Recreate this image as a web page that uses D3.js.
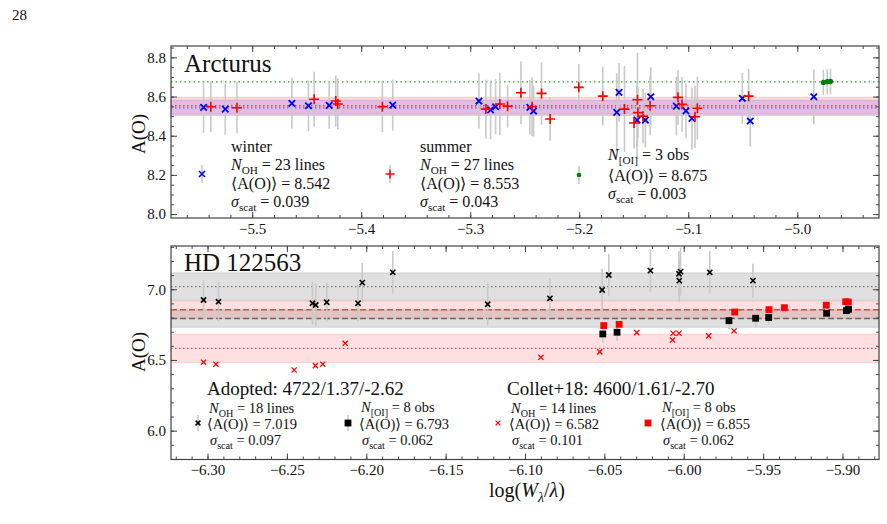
<!DOCTYPE html>
<html><head><meta charset="utf-8">
<script src="https://cdn.jsdelivr.net/npm/d3@7"></script>
<style>body{margin:0;background:#fff}svg{display:block}text{font-family:"Liberation Serif","DejaVu Serif",serif;fill:#111}</style>
</head><body><svg id="c" width="887" height="524"></svg>
<script>
// ---------- Arcturus (top panel) ----------
const arcWinterX = [-5.5446,-5.5247,-5.4636,-5.4484,-5.4294,-5.3711,-5.2920,-5.2813,-5.2767,-5.2453,-5.2419,-5.1635,-5.1656,-5.1470,-5.1393,-5.1344,-5.1109,-5.1021,-5.0966,-5.0504,-5.0431,-4.9848];
const arcWinterY = [8.545,8.536,8.565,8.553,8.555,8.556,8.577,8.532,8.548,8.545,8.526,8.621,8.519,8.480,8.480,8.599,8.551,8.527,8.488,8.591,8.475,8.599];
const arcWinterErr = [0.13,0.13,0.13,0.13,0.12,0.13,0.14,0.15,0.14,0.14,0.13,0.15,0.20,0.20,0.14,0.15,0.15,0.14,0.16,0.13,0.13,0.14];
const arcSummerX = [-5.538,-5.514,-5.4432,-5.4233,-5.4215,-5.3806,-5.2856,-5.2728,-5.2657,-5.2535,-5.2432,-5.2346,-5.2267,-5.2004,-5.1784,-5.1585,-5.1466,-5.1462,-5.1497,-5.1415,-5.1350,-5.1094,-5.1057,-5.0938,-5.0916,-5.0446];
const arcSummerY = [8.548,8.543,8.586,8.577,8.562,8.548,8.536,8.562,8.551,8.619,8.548,8.616,8.485,8.647,8.602,8.536,8.584,8.518,8.465,8.500,8.553,8.596,8.560,8.497,8.540,8.602];
const arcSummerErr = [0.13,0.13,0.14,0.13,0.13,0.13,0.15,0.16,0.11,0.16,0.15,0.16,0.11,0.12,0.15,0.22,0.24,0.13,0.13,0.14,0.15,0.14,0.14,0.16,0.16,0.14];
const arcOIX = [-4.9760,-4.9725,-4.9695];
const arcOIY = [8.672,8.676,8.677];
const arcOIErr = [0.065,0.065,0.065];
const arcMeans = [8.542, 8.553, 8.675];
const arcScatter = [0.039, 0.043, 0.003];
const arcCounts = [23, 27, 3];

// ---------- HD 122563 (bottom panel) ----------
const hdOHX = [-6.3025,-6.2931,-6.2339,-6.2318,-6.2249,-6.2052,-6.2025,-6.1833,-6.1235,-6.0843,-6.0514,-6.0472,-6.0210,-6.0030,-6.0020,-6.0028,-5.9836,-5.9564];
const hdOHY = [6.924,6.912,6.901,6.889,6.908,6.901,7.047,7.120,6.894,6.936,6.995,7.101,7.132,7.110,7.125,7.061,7.120,7.061];
const hdOHErr = [0.14,0.14,0.15,0.15,0.14,0.13,0.14,0.15,0.15,0.14,0.15,0.15,0.15,0.16,0.17,0.15,0.15,0.12];
const hdOIX = [-6.0510,-6.0420,-5.9715,-5.9547,-5.9465,-5.9100,-5.8975,-5.8962];
const hdOIY = [6.684,6.696,6.778,6.795,6.800,6.830,6.849,6.858];
const hdOIErr = [0.06,0.06,0.06,0.06,0.05,0.05,0.05,0.05];
const colOHX = [-6.3025,-6.2947,-6.2454,-6.2320,-6.2274,-6.2133,-6.0900,-6.0529,-6.0296,-6.0067,-6.0071,-6.0030,-5.9843,-5.9683];
const colOHY = [6.484,6.470,6.429,6.460,6.470,6.618,6.519,6.557,6.693,6.689,6.641,6.689,6.670,6.705];
const colOIX = [-6.0504,-6.0407,-5.9679,-5.9463,-5.9366,-5.9102,-5.8980,-5.8963];
const colOIY = [6.743,6.752,6.839,6.856,6.870,6.887,6.912,6.910];
const hdMeans = [7.019, 6.793, 6.582, 6.855];
const hdScatter = [0.097, 0.062, 0.101, 0.062];
const hdCounts = [18, 8, 14, 8];

// ticks
const topXTicks = [-5.5,-5.4,-5.3,-5.2,-5.1,-5.0];
const topYTicks = [8.0,8.2,8.4,8.6,8.8];
const botXTicks = [-6.30,-6.25,-6.20,-6.15,-6.10,-6.05,-6.00,-5.95,-5.90];
const botYTicks = [6.0,6.5,7.0];

const svg = d3.select("#c");
svg.append("rect").attr("width",887).attr("height",524).attr("fill","#fff");
svg.append("text").attr("x",12).attr("y",20).attr("font-size",15).text("28");

const L=171,R=879,T1=46,B1=218,T2=246,B2=459.5;
const xTop = d3.scaleLinear().domain([-5.5745,-4.925]).range([L,R]);
const yTop = d3.scaleLinear().domain([7.980,8.858]).range([B1,T1]);
const xBot = d3.scaleLinear().domain([-6.323,-5.877]).range([L,R]);
const yBot = d3.scaleLinear().domain([5.796,7.306]).range([B2,T2]);

const ERRC = "#c9c9c9";
function band(g,y,m,s,fill){
  g.append("rect").attr("x",L).attr("width",R-L).attr("y",y(m+s)).attr("height",y(m-s)-y(m+s))
   .attr("fill",fill).attr("stroke",fill).attr("stroke-width",1);
}
function hline(g,y,v,color,dash,w){
  g.append("line").attr("x1",L).attr("x2",R).attr("y1",y(v)).attr("y2",y(v))
   .attr("stroke",color).attr("stroke-width",w||1.2).attr("stroke-dasharray",dash);
}
function errbars(g,x,y,X,Y,E){
  g.selectAll(null).data(X).enter().append("line")
   .attr("x1",(d)=>x(d)).attr("x2",(d)=>x(d))
   .attr("y1",(d,i)=>y(Y[i]+E[i])).attr("y2",(d,i)=>y(Y[i]-E[i]))
   .attr("stroke",ERRC).attr("stroke-width",1.6);
}
const xPath = s=>`M${-s},${-s}L${s},${s}M${-s},${s}L${s},${-s}`;
const pPath = s=>`M${-s},0H${s}M0,${-s}V${s}`;
function markers(g,x,y,X,Y,type,color,size,sw){
  const sel = g.selectAll(null).data(X).enter();
  if(type==="x"||type==="+"){
    sel.append("path").attr("transform",(d,i)=>`translate(${x(d)},${y(Y[i])})`)
      .attr("d",type==="x"?xPath(size):pPath(size)).attr("stroke",color).attr("stroke-width",sw).attr("fill","none");
  } else if(type==="o"){
    sel.append("circle").attr("cx",d=>x(d)).attr("cy",(d,i)=>y(Y[i])).attr("r",size).attr("fill",color);
  } else {
    sel.append("rect").attr("x",d=>x(d)-size).attr("y",(d,i)=>y(Y[i])-size).attr("width",2*size).attr("height",2*size).attr("fill",color);
  }
}
function frame(g,x,y,T,B,xt,xminor,yt,yminor,xfmt,yfmt){
  const AX="#444";
  const mk=(axis,tr,vals,size,fmt)=>{
    const a=g.append("g").attr("transform",tr).call(axis.tickValues(vals).tickSize(size).tickSizeOuter(0).tickPadding(5).tickFormat(fmt));
    a.select(".domain").remove();
    a.selectAll("line").attr("stroke",AX).attr("stroke-width",1);
    a.selectAll("text").attr("font-family","Liberation Serif, serif").attr("font-size",15).attr("fill","#111");
    return a;
  };
  const none=()=>"";
  mk(d3.axisBottom(x),`translate(0,${B})`,xt,-6,xfmt);
  mk(d3.axisBottom(x),`translate(0,${B})`,xminor,-3,none);
  mk(d3.axisTop(x),`translate(0,${T})`,xt,-6,none);
  mk(d3.axisTop(x),`translate(0,${T})`,xminor,-3,none);
  mk(d3.axisLeft(y),`translate(${L},0)`,yt,-6,yfmt);
  mk(d3.axisLeft(y),`translate(${L},0)`,yminor,-3,none);
  mk(d3.axisRight(y),`translate(${R},0)`,yt,-6,none);
  mk(d3.axisRight(y),`translate(${R},0)`,yminor,-3,none);
  g.append("rect").attr("x",L).attr("y",T).attr("width",R-L).attr("height",B-T).attr("fill","none").attr("stroke",AX).attr("stroke-width",1.2);
}
const rng=(a,b,s)=>d3.range(Math.round(a/s),Math.round(b/s)+1).map(k=>+(k*s).toFixed(4));

// text helpers
function addText(g,x,y,parts,size){
  const t=g.append("text").attr("x",x).attr("y",y).attr("font-size",size);
  let shift=0;
  parts.forEach(p=>{
    const ts=t.append("tspan").text(p.t);
    if(p.i) ts.attr("font-style","italic");
    const target=p.sub?size*0.25:0;
    if(target!==shift){ts.attr("dy",target-shift);shift=target;}
    if(p.sub) ts.attr("font-size",size*0.7);
  });
  return t;
}
const Nline=(sub,rest)=>[{t:"N",i:1},{t:sub,sub:1},{t:rest}];
const Aline=v=>[{t:"\u27E8A(O)\u27E9 = "+v}];
const Sline=v=>[{t:"\u03C3",i:1},{t:"scat",sub:1},{t:" = "+v}];

// ===== TOP PANEL =====
const gt=svg.append("g");
band(gt,yTop,arcMeans[1],arcScatter[1],"rgba(255,0,0,0.14)");
band(gt,yTop,arcMeans[0],arcScatter[0],"rgba(60,0,255,0.14)");
hline(gt,yTop,arcMeans[2],"#2a9a2a","1.5,3",1.2);
hline(gt,yTop,arcMeans[1],"#e04040","1.5,2.5",1.3);
hline(gt,yTop,arcMeans[0],"#5060ff","1.5,2.5",1.3);
errbars(gt,xTop,yTop,arcWinterX,arcWinterY,arcWinterErr);
errbars(gt,xTop,yTop,arcSummerX,arcSummerY,arcSummerErr);
errbars(gt,xTop,yTop,arcOIX,arcOIY,arcOIErr);
markers(gt,xTop,yTop,arcWinterX,arcWinterY,"x","#0000ff",3.2,1.8);
markers(gt,xTop,yTop,arcSummerX,arcSummerY,"+","#ff0000",5,1.6);
markers(gt,xTop,yTop,arcOIX,arcOIY,"o","#008000",2.6);
frame(gt,xTop,yTop,T1,B1,topXTicks,rng(-5.56,-4.94,0.02),topYTicks,rng(8.0,8.85,0.05),d3.format(".1f"),d3.format(".1f"));
gt.append("text").attr("x",184).attr("y",72).attr("font-size",25).text("Arcturus");
gt.append("text").attr("transform","translate(145,134) rotate(-90)").attr("text-anchor","middle").attr("font-size",19).text("A(O)");

// top legend
function legMark(g,x,y,type,color,size,sw,e){
  g.append("line").attr("x1",x).attr("x2",x).attr("y1",y-e).attr("y2",y+e).attr("stroke",ERRC).attr("stroke-width",1.6);
  markers(g,d=>d,()=>y,[x],[0],type,color,size,sw);
}
legMark(gt,202,174,"x","#0000ff",3,1.6,9);
legMark(gt,390,174,"+","#ff0000",4.5,1.5,9);
legMark(gt,579,175,"o","#008000",2.3,1,9);
const LF=16;
addText(gt,231,152,[{t:"winter"}],LF);
addText(gt,231,170,Nline("OH"," = "+arcCounts[0]+" lines"),LF);
addText(gt,231,189,Aline(arcMeans[0].toFixed(3)),LF);
addText(gt,231,207,Sline(arcScatter[0].toFixed(3)),LF);
addText(gt,420,152,[{t:"summer"}],LF);
addText(gt,420,170,Nline("OH"," = "+arcCounts[1]+" lines"),LF);
addText(gt,420,189,Aline(arcMeans[1].toFixed(3)),LF);
addText(gt,420,207,Sline(arcScatter[1].toFixed(3)),LF);
addText(gt,608,160,Nline("[OI]"," = "+arcCounts[2]+" obs"),LF);
addText(gt,608,181,Aline(arcMeans[2].toFixed(3)),LF);
addText(gt,608,199,Sline(arcScatter[2].toFixed(3)),LF);

// ===== BOTTOM PANEL =====
const gb=svg.append("g");
band(gb,yBot,hdMeans[0],hdScatter[0],"rgba(0,0,0,0.12)");
band(gb,yBot,hdMeans[1],hdScatter[1],"rgba(0,0,0,0.12)");
band(gb,yBot,hdMeans[2],hdScatter[2],"rgba(255,0,0,0.12)");
band(gb,yBot,hdMeans[3],hdScatter[3],"rgba(255,0,0,0.12)");
hline(gb,yBot,hdMeans[0],"#777","1.5,2.5",1.2);
hline(gb,yBot,hdMeans[1],"#666","6,3",1.4);
hline(gb,yBot,hdMeans[3],"#e04848","6,3",1.4);
hline(gb,yBot,hdMeans[2],"#e04848","1.5,2.5",1.2);
errbars(gb,xBot,yBot,hdOHX,hdOHY,hdOHErr);
errbars(gb,xBot,yBot,hdOIX,hdOIY,hdOIErr);
markers(gb,xBot,yBot,hdOHX,hdOHY,"x","#000",2.6,1.6);
markers(gb,xBot,yBot,colOHX,colOHY,"x","#ff0000",2.6,1.3);
markers(gb,xBot,yBot,colOIX,colOIY,"s","#ff0000",3.4);
markers(gb,xBot,yBot,hdOIX,hdOIY,"s","#000",3.4);
frame(gb,xBot,yBot,T2,B2,botXTicks,rng(-6.32,-5.88,0.01),botYTicks,rng(5.8,7.3,0.1),d3.format(".2f"),d3.format(".1f"));
gb.append("text").attr("x",184).attr("y",271).attr("font-size",25).text("HD 122563");
gb.append("text").attr("transform","translate(145,352) rotate(-90)").attr("text-anchor","middle").attr("font-size",19).text("A(O)");

// bottom legend
legMark(gb,198,423,"x","#000",2.4,1.5,8);
legMark(gb,348,423,"s","#000",3.4,1,8);
markers(gb,d=>d,()=>423,[498],[0],"x","#ff0000",2.4,1.2);
markers(gb,d=>d,()=>423,[648],[0],"s","#ff0000",3.4);
addText(gb,207,395,[{t:"Adopted: 4722/1.37/-2.62"}],19);
addText(gb,507,395,[{t:"Collet+18: 4600/1.61/-2.70"}],19);
const BF=14.5;
addText(gb,209,413,Nline("OH"," = "+hdCounts[0]+" lines"),BF);
addText(gb,207,429,Aline(hdMeans[0].toFixed(3)),BF);
addText(gb,210,445,Sline(hdScatter[0].toFixed(3)),BF);
addText(gb,361,412,Nline("[OI]"," = "+hdCounts[1]+" obs"),BF);
addText(gb,359,429,Aline(hdMeans[1].toFixed(3)),BF);
addText(gb,362,445,Sline(hdScatter[1].toFixed(3)),BF);
addText(gb,511,413,Nline("OH"," = "+hdCounts[2]+" lines"),BF);
addText(gb,509,429,Aline(hdMeans[2].toFixed(3)),BF);
addText(gb,512,445,Sline(hdScatter[2].toFixed(3)),BF);
addText(gb,662,412,Nline("[OI]"," = "+hdCounts[3]+" obs"),BF);
addText(gb,660,429,Aline(hdMeans[3].toFixed(3)),BF);
addText(gb,663,445,Sline(hdScatter[3].toFixed(3)),BF);

// x label
const xl=svg.append("text").attr("x",527).attr("y",497).attr("text-anchor","middle").attr("font-size",20);
xl.append("tspan").text("log(");
xl.append("tspan").attr("font-style","italic").text("W");
xl.append("tspan").attr("font-style","italic").attr("font-size",14).attr("dy",5).text("\u03BB");
xl.append("tspan").attr("dy",-5).text("/");
xl.append("tspan").attr("font-style","italic").text("\u03BB");
xl.append("tspan").text(")");
</script></body></html>
